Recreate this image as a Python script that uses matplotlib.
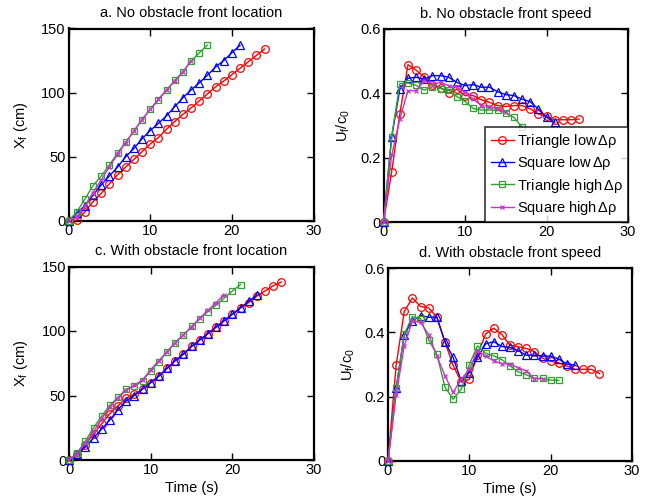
import numpy as np
import matplotlib
matplotlib.use('Agg')
import matplotlib.pyplot as plt

plt.rcParams['font.family'] = ['Liberation Sans', 'DejaVu Sans']
plt.rcParams['font.size'] = 10.5
plt.rcParams['mathtext.fontset'] = 'custom'
plt.rcParams['mathtext.rm'] = 'Liberation Sans'
plt.rcParams['mathtext.it'] = 'Liberation Sans'

# a. no obstacle, front location (cm), one value per second from t=0
a_tri_low = [0, 0.5, 7, 15, 21.5, 29, 36, 42, 48, 54, 60, 65, 71.5, 77.5, 83, 88, 93.5,
             99, 104.5, 109, 114, 119, 124, 129, 134]
a_sq_low = [0, 6, 12, 20, 28, 35, 42, 50, 56.5, 64, 70.5, 76, 82, 89, 96, 102, 107.5,
            113.5, 120, 125, 131, 137]
a_tri_high = [0, 7, 17, 27.5, 35, 43.5, 53, 61.5, 70, 79, 87, 94, 102, 109.5, 116, 124.5,
              131, 137]
a_sq_high = [0, 3, 12, 22, 32, 42, 52, 61, 70, 79, 87, 95, 102, 109, 116, 125]

# b. no obstacle, front speed U_f/c_0
b_tri_low = [0, 0.156, 0.336, 0.489, 0.472, 0.45, 0.425, 0.418, 0.40, 0.413, 0.393, 0.393,
             0.38, 0.372, 0.362, 0.359, 0.362, 0.362, 0.352, 0.336, 0.328, 0.318, 0.318,
             0.318, 0.32]
b_sq_low = [0, 0.264, 0.413, 0.447, 0.45, 0.444, 0.455, 0.455, 0.45, 0.434, 0.424, 0.427,
            0.419, 0.419, 0.405, 0.396, 0.393, 0.382, 0.374, 0.351, 0.326, 0.31]
b_tri_high = [0, 0.265, 0.43, 0.432, 0.425, 0.41, 0.42, 0.415, 0.41, 0.39, 0.375, 0.353,
              0.348, 0.348, 0.348, 0.338, 0.325, 0.295]
b_sq_high = [0, 0.207, 0.32, 0.408, 0.408, 0.439, 0.429, 0.434, 0.424, 0.419, 0.403, 0.382,
             0.362, 0.359, 0.352, 0.341]

# c. with obstacle, front location (cm)
c_tri_low = [0, 5, 12, 20, 28, 36, 42, 48, 51, 55, 60, 65, 71, 77, 82, 88, 93, 98, 103,
             108, 113, 118, 122, 127, 131, 135, 138]
c_sq_low = [0, 5, 10, 17, 24, 31, 39, 46, 50, 55, 60, 65, 71, 77, 82, 88, 93, 98, 103,
            108, 113, 118, 123, 128]
c_tri_high = [0, 5.7, 14.5, 25, 34, 42.5, 48.5, 55, 57, 61.5, 69, 76, 83.5, 91, 97, 103.5,
              109.5, 115, 120, 125.5, 131, 136]
c_sq_high = [0, 5, 13, 22, 32, 41, 48, 54, 58, 62, 70, 77, 84, 91, 97, 103, 110, 116, 122,
             128]

# d. with obstacle, front speed U_f/c_0
d_tri_low = [0, 0.298, 0.465, 0.507, 0.48, 0.476, 0.447, 0.37, 0.298, 0.245, 0.254, 0.33,
             0.395, 0.413, 0.393, 0.36, 0.355, 0.35, 0.34, 0.32, 0.31, 0.305, 0.295, 0.285,
             0.285, 0.285, 0.272]
d_sq_low = [0, 0.226, 0.393, 0.436, 0.452, 0.447, 0.447, 0.371, 0.322, 0.249, 0.275, 0.322,
            0.364, 0.371, 0.356, 0.353, 0.343, 0.329, 0.329, 0.326, 0.326, 0.317, 0.301,
            0.298]
d_tri_high = [0, 0.226, 0.395, 0.449, 0.443, 0.376, 0.332, 0.23, 0.192, 0.223, 0.30, 0.358,
              0.335, 0.327, 0.315, 0.296, 0.277, 0.268, 0.257, 0.257, 0.251, 0.251]
d_sq_high = [0, 0.204, 0.358, 0.436, 0.431, 0.393, 0.327, 0.265, 0.213, 0.254, 0.285,
             0.343, 0.327, 0.311, 0.303, 0.301, 0.29, 0.28, 0.256, 0.256]

labels = [r'Triangle low$\,\Delta\rho$', r'Square low$\,\Delta\rho$',
          r'Triangle high$\,\Delta\rho$', r'Square high$\,\Delta\rho$']
colors = ['#ff0000', '#0000ff', '#33a033', '#cc33cc']
markers = ['o', '^', 's', 'x']
msizes = [5.5, 6, 4.5, 3.5]

panels = [
    ('a. No obstacle front location', [a_tri_low, a_sq_low, a_tri_high, a_sq_high],
     [68.5, 28.5, 313.5, 221], (0, 150), [0, 50, 100, 150], r'X$_\mathregular{f}$ (cm)'),
    ('b. No obstacle front speed', [b_tri_low, b_sq_low, b_tri_high, b_sq_high],
     [383.5, 29, 628, 222], (0, 0.6), [0, 0.2, 0.4, 0.6], r'U$_\mathregular{f}$/c$_\mathregular{0}$'),
    ('c. With obstacle front location', [c_tri_low, c_sq_low, c_tri_high, c_sq_high],
     [69, 266.5, 314, 460], (0, 150), [0, 50, 100, 150], r'X$_\mathregular{f}$ (cm)'),
    ('d. With obstacle front speed', [d_tri_low, d_sq_low, d_tri_high, d_sq_high],
     [388, 268, 632, 461], (0, 0.6), [0, 0.2, 0.4, 0.6], r'U$_\mathregular{f}$/c$_\mathregular{0}$'),
]

W, H = 652, 497
fig = plt.figure(figsize=(W / 100, H / 100), dpi=100)

for i, (title, series, box, ylim, yticks, ylabel) in enumerate(panels):
    x0, y0, x1, y1 = box
    ax = fig.add_axes([x0 / W, 1 - y1 / H, (x1 - x0) / W, (y1 - y0) / H])
    for s, c, m, ms, lab in zip(series, colors, markers, msizes, labels):
        t = np.arange(len(s))
        ax.plot(t, s, color=c, marker=m, markersize=ms, markerfacecolor='none',
                markeredgecolor=c, markeredgewidth=0.9, linewidth=1.0, label=lab,
                clip_on=False, zorder=3)
    ax.set_xlim(0, 30)
    ax.set_ylim(*ylim)
    ax.set_xticks([0, 10, 20, 30])
    ax.set_yticks(yticks)
    if ylim[1] < 1:
        ax.set_yticklabels(['0', '0.2', '0.4', '0.6'])
    ax.tick_params(direction='in', top=True, right=True, length=5, width=1.0, pad=2)
    for sp in ax.spines.values():
        sp.set_linewidth(1.6)
    ax.set_title(title, fontsize=10.5, pad=8)
    ax.set_ylabel(ylabel, labelpad=8 if ylim[1] > 1 else 6)
    if i >= 2:
        ax.set_xlabel('Time (s)', labelpad=3)
    if i == 1:
        leg = ax.legend(loc='lower right', borderaxespad=0, fancybox=False,
                        edgecolor='black', handlelength=1.6, handletextpad=0.2,
                        labelspacing=0.3, borderpad=0.35, fontsize=10.5)
        leg.get_frame().set_linewidth(1.2)
        leg.set_zorder(5)

fig.savefig('out.png', dpi=100)
